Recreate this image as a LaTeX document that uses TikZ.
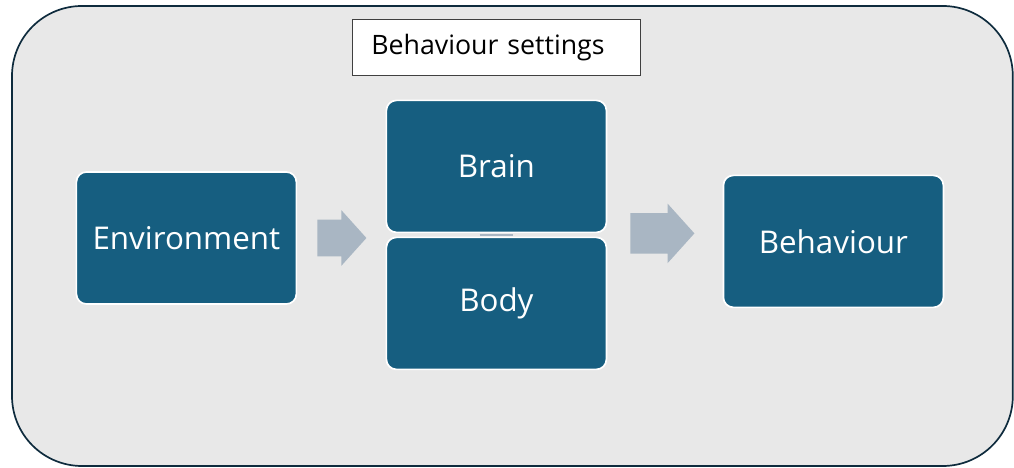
\documentclass[tikz,border=0pt]{standalone}
\usepackage{fontspec}
\setmainfont{Open Sans}
\usetikzlibrary{calc,positioning,shapes.arrows}
\definecolor{boxblue}{HTML}{165E80}
\definecolor{arrowgray}{HTML}{A9B6C3}
\definecolor{panelgray}{HTML}{E8E8E8}
\definecolor{panelline}{HTML}{0E2B3D}
\tikzset{
  every node/.style={outer sep=0mm},
  block/.style={
    draw=white, line width=1.2pt, fill=boxblue, text=white,
    rounded corners=0.25cm,
    minimum width=5.5cm, minimum height=3.3cm,
    font=\fontsize{22.3}{26}\selectfont
  },
  blockarrow/.style 2 args={
    single arrow, draw=none, fill=arrowgray,
    inner xsep=0pt, inner ysep=#2,
    minimum height=#1,
    single arrow head extend=0.24cm, single arrow tip angle=96
  },
  label box/.style={
    draw=black!75, line width=0.8pt, fill=white,
    minimum height=1.4cm, text width=6.25cm, inner xsep=0.475cm,
    align=left, font=\fontsize{19}{23}\selectfont
  }
}

\begin{document}
\begin{tikzpicture}
  \useasboundingbox (0,0) rectangle (25.35,11.7);

  % outer panel
  \draw [panelline, line width=1.2pt, fill=panelgray, rounded corners=1.75cm]
    (0.3,0.05) rectangle (25.32,11.55);

  \node (Environment) [block] at (4.66,5.75) {Environment};
  \node (Brain)       [block, right=2.25cm of Environment, yshift=1.79cm] {Brain};
  \node (Body)        [block, below=0.125cm of Brain] {Body};
  \node (Behaviour)   [block, right=2.925cm of Body, yshift=1.55cm] {Behaviour};

  \node (Settings) [label box, above=0.625cm of Brain] {Behaviour settings};

  \node (ArrowIn)  [blockarrow={1.225cm}{0.45cm}, right=0.525cm of Environment] {};
  \node (ArrowOut) [blockarrow={1.6cm}{0.5cm}, left=0.725cm of Behaviour, yshift=0.2cm] {};

  \draw [arrowgray, line width=1pt]
    ($($(Brain.south)!0.5!(Body.north)$)+(-0.42cm,0)$) --
    ($($(Brain.south)!0.5!(Body.north)$)+(0.42cm,0)$);
\end{tikzpicture}
\end{document}
